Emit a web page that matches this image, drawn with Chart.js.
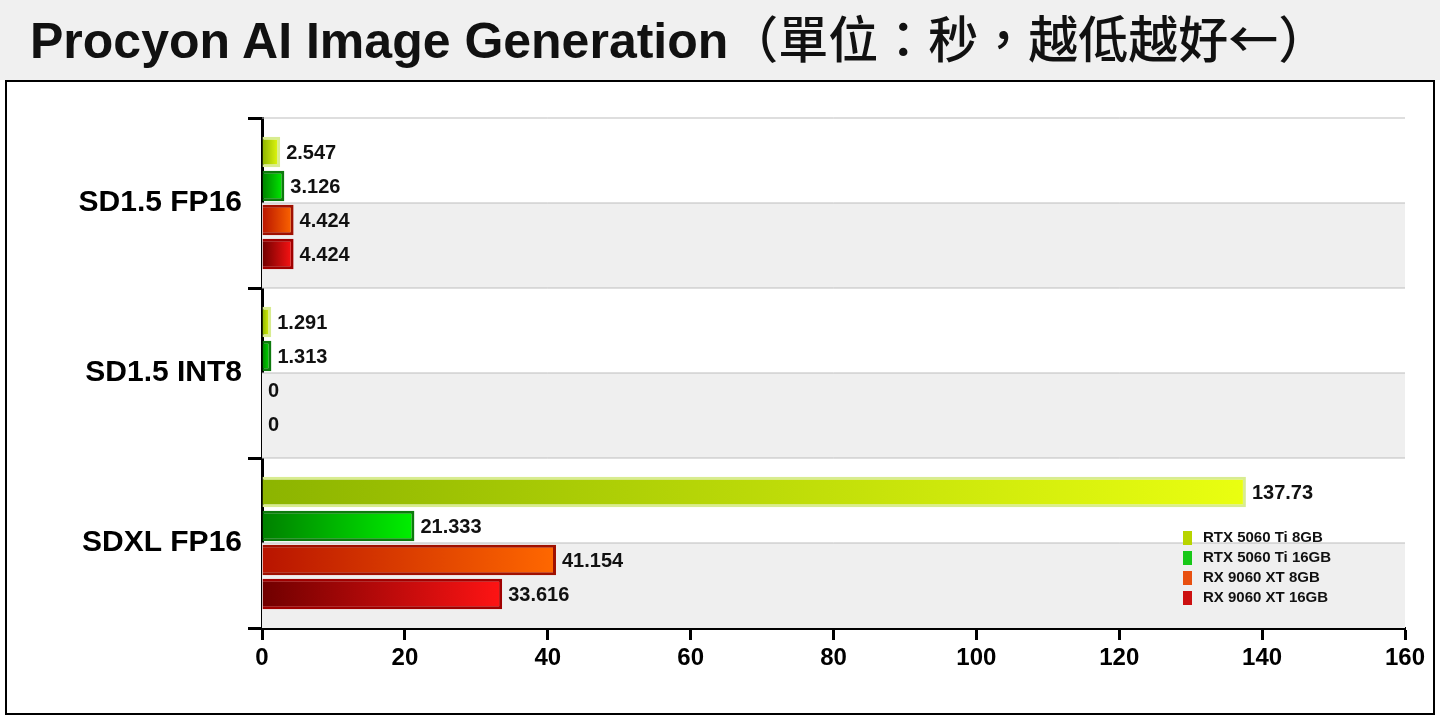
<!DOCTYPE html>
<html>
<head>
<meta charset="utf-8">
<script src="https://cdn.jsdelivr.net/npm/chart.js@4"></script>
<style>
  body { margin: 0; width: 1440px; height: 720px; background: #fff; position: relative; overflow: hidden; }
  #title { position: absolute; left: 0; top: 0; width: 1440px; height: 80px; background: #f0f0f0;
           font: bold 50px "Liberation Sans", Arial, sans-serif; color: #111; line-height: 80px; padding-left: 30px; box-sizing: border-box; white-space: nowrap; }
  #title span { font: 500 50px "Noto Sans CJK TC", sans-serif; }
  #box { position: absolute; left: 5px; top: 80px; width: 1430px; height: 635px; border: 2px solid #000; box-sizing: border-box; }
</style>
</head>
<body>
<div id="title">Procyon AI Image Generation<span>（單位：秒，越低越好←）</span></div>
<div id="box"><canvas id="c" width="1426" height="631"></canvas></div>
<script>
var categories = ['SD1.5 FP16', 'SD1.5 INT8', 'SDXL FP16'];
var seriesNames = ['RTX 5060 Ti 8GB', 'RTX 5060 Ti 16GB', 'RX 9060 XT 8GB', 'RX 9060 XT 16GB'];
var rtx8 = [2.547, 1.291, 137.73];
var rtx16 = [3.126, 1.313, 21.333];
var rx8 = [4.424, 0, 41.154];
var rx16 = [4.424, 0, 33.616];
var xTicks = [0, 20, 40, 60, 80, 100, 120, 140, 160];

var gradStops = [['#8cb400', '#eaff10'], ['#008000', '#00f000'], ['#b81400', '#ff6800'], ['#700000', '#ff1414']];
var borders = ['#d8ec90', '#0d7a0d', '#a01000', '#a00000'];
var legendSwatch = ['#b8d400', '#18c818', '#e85010', '#cc1010'];

function grad(i) {
    return function (ctx) {
        var chart = ctx.chart, area = chart.chartArea;
        if (!area || !chart.scales.x || ctx.raw == undefined) return gradStops[i][1];
        var end = chart.scales.x.getPixelForValue(ctx.raw);
        if (!isFinite(end) || !isFinite(area.left)) return gradStops[i][1];
        var g = chart.ctx.createLinearGradient(area.left, 0, Math.max(end, area.left + 1), 0);
        g.addColorStop(0, gradStops[i][0]);
        g.addColorStop(1, gradStops[i][1]);
        return g;
    };
}

var allData = [rtx8, rtx16, rx8, rx16];
var datasets = allData.map(function (d, i) {
    return { label: seriesNames[i], data: d, backgroundColor: grad(i), borderColor: borders[i], borderWidth: 3,
             categoryPercentage: 0.8, barPercentage: 0.9 };
});

var bandPlugin = {
    id: 'bands',
    beforeDatasetsDraw: function (chart) {
        var c = chart.ctx, a = chart.chartArea, h = (a.bottom - a.top) / categories.length;
        c.save();
        for (var i = 0; i < categories.length; i++) {
            var mid = a.top + h * i + h / 2;
            c.fillStyle = '#efefef';
            c.fillRect(a.left, mid, a.right - a.left, h / 2);
            c.strokeStyle = '#bdbdbd'; c.lineWidth = 1;
            c.beginPath(); c.moveTo(a.left, mid); c.lineTo(a.right, mid); c.stroke();
            c.beginPath(); c.moveTo(a.left, a.top + h * i); c.lineTo(a.right, a.top + h * i); c.stroke();
        }
        c.restore();
    },
    afterDatasetsDraw: function (chart) {
        var c = chart.ctx, a = chart.chartArea;
        c.save();
        c.font = 'bold 20px "Liberation Sans", Arial, sans-serif';
        c.fillStyle = '#111'; c.textBaseline = 'middle';
        chart.data.datasets.forEach(function (ds, i) {
            chart.getDatasetMeta(i).data.forEach(function (bar, j) {
                c.fillText(String(ds.data[j]), bar.x + 6, bar.y + 1);
            });
        });
        // legend
        var lx = a.right - 222, ly = a.bottom - 90;
        c.font = 'bold 15px "Liberation Sans", Arial, sans-serif';
        seriesNames.forEach(function (n, i) {
            var y = ly + i * 20;
            c.fillStyle = legendSwatch[i];
            c.fillRect(lx, y - 7, 9, 14);
            c.fillStyle = '#111';
            c.fillText(n, lx + 20, y);
        });
        c.restore();
    }
};

new Chart(document.getElementById('c'), {
    type: 'bar',
    data: { labels: categories, datasets: datasets },
    options: {
        indexAxis: 'y',
        responsive: false,
        animation: false,
        layout: { padding: { top: 36, right: 28, left: 0, bottom: 0 } },
        plugins: { legend: { display: false }, tooltip: { enabled: false } },
        scales: {
            x: {
                min: 0, max: 160,
                afterBuildTicks: function (s) { s.ticks = xTicks.map(function (v) { return { value: v }; }); },
                afterFit: function (s) { s.height = 85; },
                grid: { drawOnChartArea: false, tickLength: 12, tickColor: '#000', tickWidth: 3 },
                border: { color: '#000', width: 3 },
                ticks: { color: '#000', font: { family: '"Liberation Sans", Arial', weight: 'bold', size: 24 }, padding: 4 }
            },
            y: {
                afterFit: function (s) { s.width = 255; },
                grid: { drawOnChartArea: false, offset: true, tickLength: 14, tickColor: '#000', tickWidth: 3 },
                border: { color: '#000', width: 3 },
                ticks: { color: '#000', font: { family: '"Liberation Sans", Arial', weight: 'bold', size: 30 }, padding: 6 }
            }
        }
    },
    plugins: [bandPlugin]
});
</script>
</body>
</html>
